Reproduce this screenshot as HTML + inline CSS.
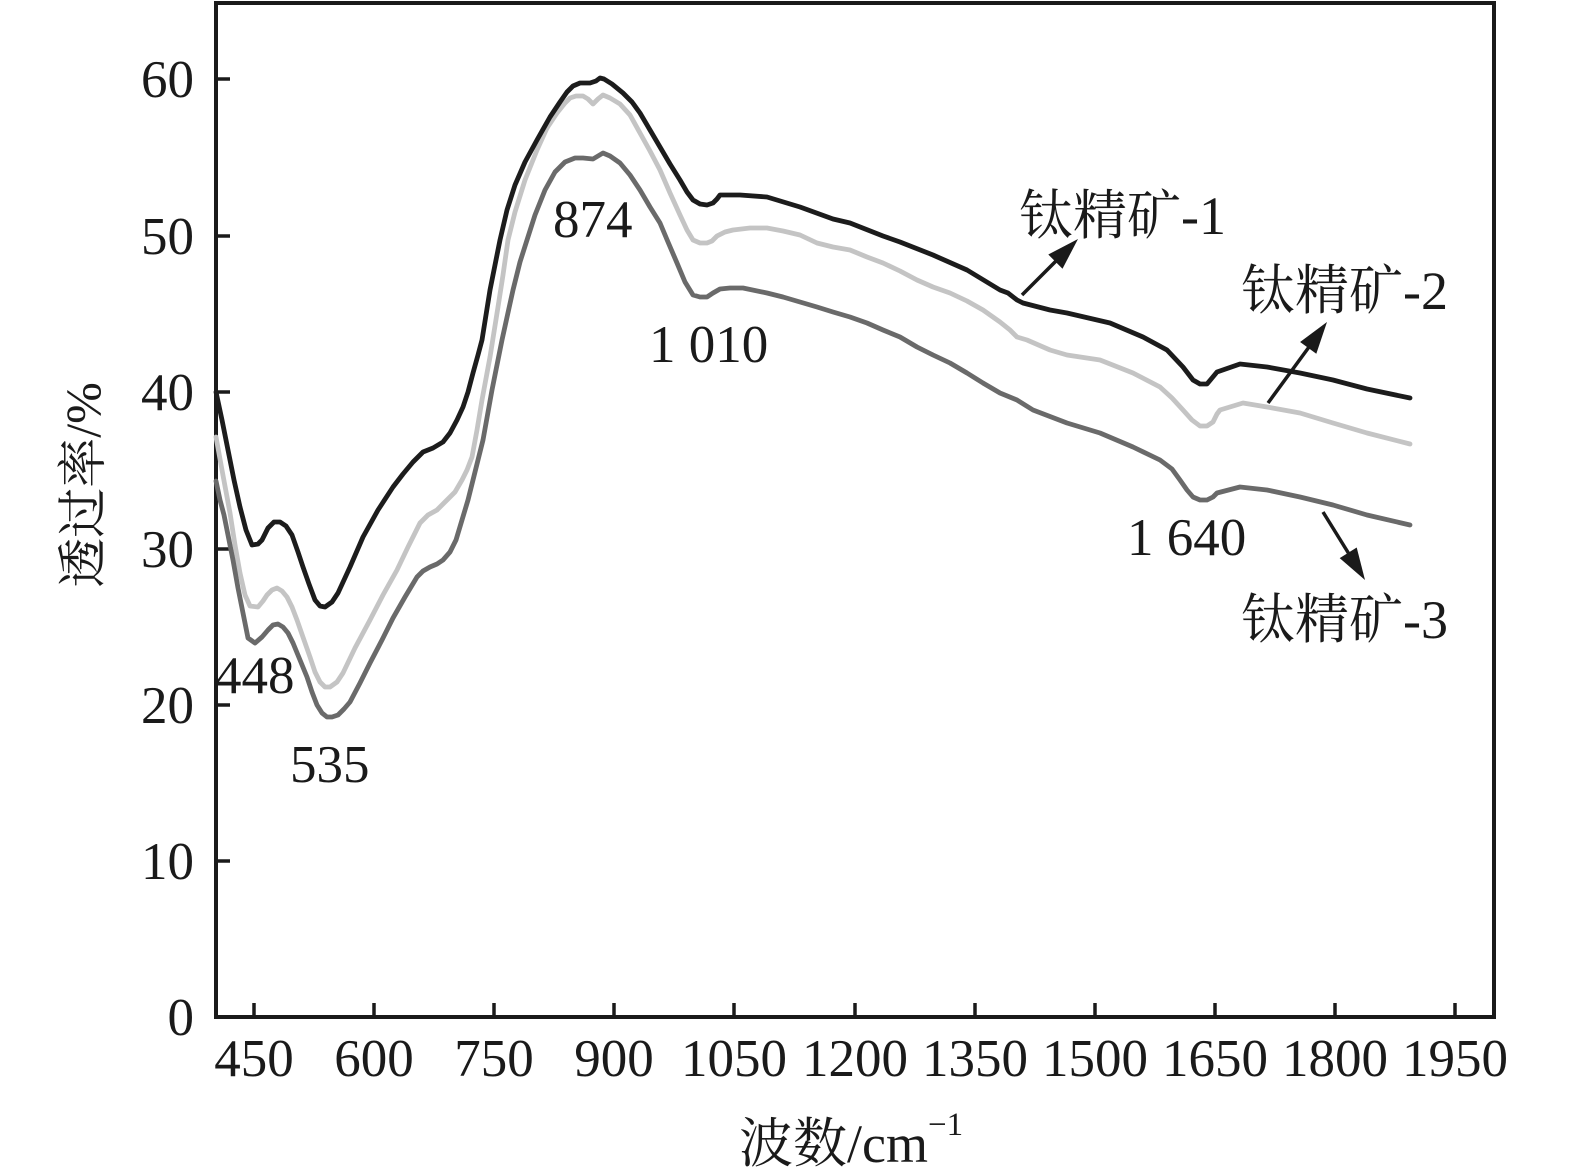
<!DOCTYPE html>
<html>
<head>
<meta charset="utf-8">
<style>
html,body{margin:0;padding:0;background:#fff;}
svg{display:block;}
text{font-family:"Liberation Serif","Noto Serif CJK SC",serif;fill:#1a1a1a;}
</style>
</head>
<body>
<svg width="1575" height="1174" viewBox="0 0 1575 1174" xmlns="http://www.w3.org/2000/svg">
<rect x="0" y="0" width="1575" height="1174" fill="#fff"/>
<!-- frame -->
<rect x="216" y="3" width="1278" height="1014" fill="none" stroke="#1a1a1a" stroke-width="4"/>
<!-- y ticks -->
<g stroke="#1a1a1a" stroke-width="3.5">
<line x1="216" y1="861" x2="230" y2="861"/>
<line x1="216" y1="705" x2="230" y2="705"/>
<line x1="216" y1="549" x2="230" y2="549"/>
<line x1="216" y1="392" x2="230" y2="392"/>
<line x1="216" y1="236" x2="230" y2="236"/>
<line x1="216" y1="79" x2="230" y2="79"/>
</g>
<g font-size="53" text-anchor="end">
<text x="194" y="1035">0</text>
<text x="194" y="879">10</text>
<text x="194" y="723">20</text>
<text x="194" y="567">30</text>
<text x="194" y="410">40</text>
<text x="194" y="254">50</text>
<text x="194" y="97">60</text>
</g>
<!-- x ticks -->
<g stroke="#1a1a1a" stroke-width="3.5">
<line x1="254" y1="1017" x2="254" y2="1003"/>
<line x1="374" y1="1017" x2="374" y2="1003"/>
<line x1="494" y1="1017" x2="494" y2="1003"/>
<line x1="614" y1="1017" x2="614" y2="1003"/>
<line x1="734" y1="1017" x2="734" y2="1003"/>
<line x1="855" y1="1017" x2="855" y2="1003"/>
<line x1="975" y1="1017" x2="975" y2="1003"/>
<line x1="1095" y1="1017" x2="1095" y2="1003"/>
<line x1="1215" y1="1017" x2="1215" y2="1003"/>
<line x1="1335" y1="1017" x2="1335" y2="1003"/>
<line x1="1455" y1="1017" x2="1455" y2="1003"/>
</g>
<g font-size="53" text-anchor="middle">
<text x="254" y="1076">450</text>
<text x="374" y="1076">600</text>
<text x="494" y="1076">750</text>
<text x="614" y="1076">900</text>
<text x="734" y="1076">1050</text>
<text x="855" y="1076">1200</text>
<text x="975" y="1076">1350</text>
<text x="1095" y="1076">1500</text>
<text x="1215" y="1076">1650</text>
<text x="1335" y="1076">1800</text>
<text x="1455" y="1076">1950</text>
</g>
<!-- axis titles -->
<text x="739" y="1162" font-size="54">波数/cm<tspan font-size="33" dy="-27">−1</tspan></text>
<text transform="translate(100,485) rotate(-90)" font-size="50" text-anchor="middle">透过率/%</text>

<!-- curves -->
<g fill="none" stroke-width="4.8" stroke-linejoin="round" stroke-linecap="round">
<polyline stroke="#c4c4c4" points="216,437 222,470 230,513 235,545 240,573 245,595 250,606 258,607 263,601 267,595 272,590 277,588 282,591 287,597 292,607 297,620 304,640 310,657 315,672 320,682 325,687 330,687 337,682 343,673 355,648 370,620 383,595 397,570 408,547 420,523 428,515 437,510 447,500 455,492 462,480 467,470 472,457 477,430 482,400 490,357 498,307 503,275 508,240 515,212 525,180 537,150 547,128 557,113 565,103 570,98 576,96 583,96 588,99 593,104 598,99 603,95 610,98 620,104 630,115 640,133 650,151 660,170 670,193 680,215 687,230 693,240 700,243 707,243 712,241 717,236 725,232 733,230 750,228 767,228 783,231 800,235 817,243 833,247 850,250 867,257 883,263 900,271 917,280 933,287 950,293 967,301 983,310 1000,322 1010,330 1017,337 1027,340 1050,350 1067,355 1100,360 1133,373 1160,387 1172,398 1183,410 1192,420 1200,426 1207,426 1213,422 1217,414 1220,410 1243,403 1267,407 1300,413 1333,423 1367,433 1410,444"/>
<polyline stroke="#6a6a6a" points="216,481 220,500 224,515 229,540 233,560 238,588 243,613 248,638 255,643 262,637 268,630 273,625 278,624 283,627 288,633 293,643 300,660 307,677 312,692 317,705 322,713 327,717 332,717 338,715 344,709 350,702 360,683 370,663 382,640 393,618 405,597 417,577 423,571 430,567 437,564 443,560 450,552 456,540 462,520 468,500 473,480 483,440 492,390 502,340 513,290 520,262 527,240 535,215 545,190 555,172 565,162 575,158 583,158 593,159 598,156 603,153 610,156 620,163 630,175 640,190 650,207 660,223 668,242 677,263 685,282 693,295 700,297 707,297 713,293 720,289 730,288 743,288 767,293 783,297 800,302 817,307 833,312 850,317 867,323 883,330 900,337 917,347 933,355 950,363 967,373 983,383 1000,393 1017,400 1033,410 1067,423 1100,433 1133,447 1160,460 1172,469 1180,480 1187,490 1193,497 1200,500 1207,500 1213,497 1217,493 1240,487 1267,490 1300,497 1333,505 1367,515 1410,525"/>
<polyline stroke="#1c1c1c" points="216,392 222,420 228,450 234,480 240,507 246,530 252,545 258,544 262,540 268,528 274,522 280,522 286,526 292,535 298,552 303,567 309,584 315,600 320,606 325,607 332,602 338,593 350,567 363,537 378,510 393,487 403,474 413,462 423,452 433,448 443,442 450,433 457,420 463,407 468,392 473,373 478,355 482,340 486,315 490,290 495,265 500,240 507,210 515,185 525,162 537,140 550,117 560,102 567,92 573,86 580,83 590,83 596,81 600,78 604,79 612,84 623,93 632,102 640,113 650,130 660,147 670,164 680,180 687,192 693,200 700,204 707,205 713,203 717,199 720,195 728,195 740,195 767,197 800,207 833,219 850,223 883,236 900,242 933,255 967,270 1000,290 1008,293 1017,300 1023,303 1050,310 1067,313 1110,323 1143,337 1167,350 1183,367 1193,380 1200,384 1207,384 1212,378 1217,372 1240,364 1267,367 1300,373 1333,380 1367,389 1410,398"/>
</g>

<!-- peak labels -->
<g font-size="53">
<text x="553" y="237">874</text>
<text x="649" y="362">1 010</text>
<text x="215" y="693">448</text>
<text x="290" y="782">535</text>
<text x="1127" y="555">1 640</text>
</g>

<!-- sample labels -->
<g font-size="54">
<text x="1019" y="234">钛精矿-1</text>
<text x="1241" y="309">钛精矿-2</text>
<text x="1241" y="638">钛精矿-3</text>
</g>

<!-- arrows -->
<g stroke="#1a1a1a" stroke-width="3.5" fill="none">
<line x1="1022" y1="295" x2="1057" y2="260"/>
<line x1="1268" y1="403" x2="1309" y2="347"/>
<line x1="1323" y1="512" x2="1349" y2="554"/>
</g>
<g fill="#1a1a1a">
<polygon points="1078,239 1062.5,268.7 1048.3,254.5"/>
<polygon points="1327,322 1316.3,353.8 1300.1,342.0"/>
<polygon points="1365,580 1339.7,558.1 1356.7,547.5"/>
</g>
</svg>
</body>
</html>
